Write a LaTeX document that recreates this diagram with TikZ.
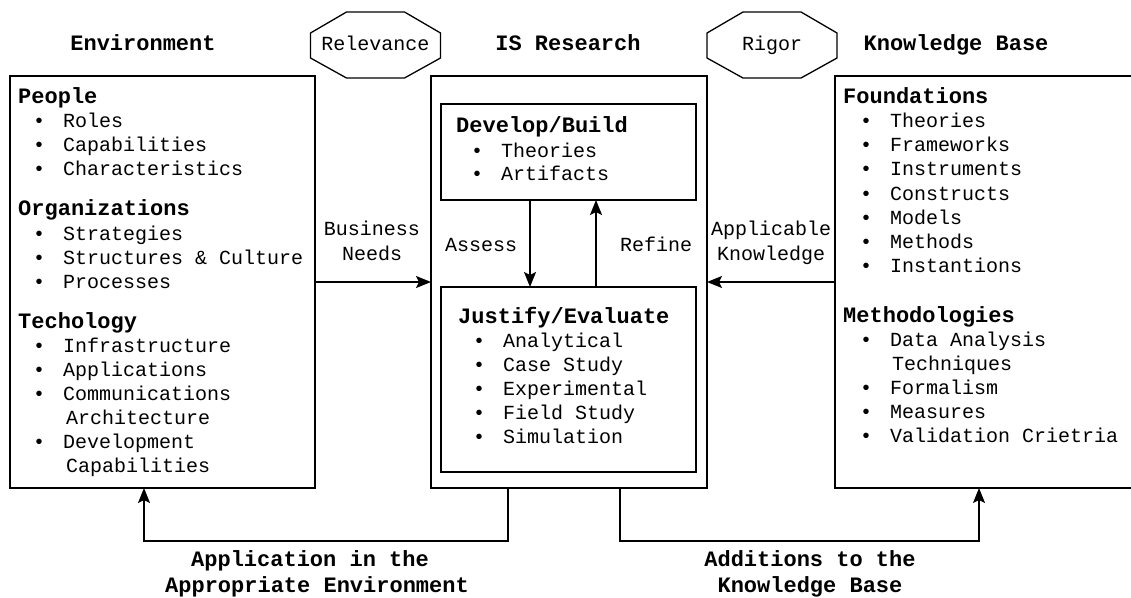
\documentclass[tikz,border=0pt]{standalone}
\usepackage{fontspec}
\setmainfont{Liberation Mono}
\usetikzlibrary{arrows.meta}
\newcommand\itemfont{\fontsize{20}{24}\selectfont}
\newcommand\headfont{\bfseries\fontsize{22}{26}\selectfont}
\newcommand\bulletcell{\makebox[30pt][l]{•}}

\begin{document}
\begin{tikzpicture}[x=1pt,y=-1pt,
  frame/.style={draw, line width=1.6pt, rectangle, inner sep=0pt, outer sep=0pt},
  subframe/.style={draw, line width=1.3pt, rectangle, inner sep=0pt, outer sep=0pt},
  item/.style={anchor=west, inner sep=0pt, font=\itemfont, text height=14pt, text depth=4pt},
  head/.style={anchor=west, inner sep=0pt, font=\headfont, text height=15pt, text depth=4pt},
  title/.style={anchor=center, inner sep=0pt, font=\headfont, text height=15pt, text depth=4pt},
  lbl/.style={anchor=center, inner sep=0pt, font=\itemfont, text height=14pt, text depth=4pt},
  octa/.style={line width=1.3pt},
  flow/.style={line width=1.6pt, -{Stealth[length=15pt,width=12pt,inset=3pt]}},
  link/.style={line width=1.6pt}
]
\useasboundingbox (0,0) rectangle (1131,597);

% column titles
\node[title] (tenv) at (143,45) {Environment};
\node[title] (tisr) at (568,45) {IS Research};
\node[title] (tkb)  at (956,45) {Knowledge Base};

% relevance and rigor octagons
\foreach \cx/\nm/\txt in {375.5/rel/Relevance, 772/rig/Rigor}{
  \draw[octa] (\cx-65,33) -- (\cx-29,12) -- (\cx+29,12) -- (\cx+65,33)
    -- (\cx+65,58) -- (\cx+29,78) -- (\cx-29,78) -- (\cx-65,58) -- cycle;
  \node[lbl] (\nm) at (\cx,45) {\txt};
}

% main frames
\node[frame, minimum width=305pt, minimum height=412pt] (env) at (162.5,282) {};
\node[frame, minimum width=276pt, minimum height=412pt] (isr) at (569,282) {};
\node[inner sep=0pt, outer sep=0pt, minimum width=300pt, minimum height=412pt] (kb) at (985,282) {};
\draw[line width=1.6pt] (kb.north east) -- (kb.north west) -- (kb.south west) -- (kb.south east);

% inner boxes of the research column
\node[subframe, minimum width=255pt, minimum height=96pt] (dev) at (568.5,152) {};
\node[subframe, minimum width=255pt, minimum height=185pt] (jus) at (568.5,379.5) {};

% environment contents
\node[head] (people) at (18,98) {People};
\node[item] (e1) at (33,122) {\bulletcell Roles};
\node[item] (e2) at (33,146) {\bulletcell Capabilities};
\node[item] (e3) at (33,170) {\bulletcell Characteristics};
\node[head] (orgs) at (18,210) {Organizations};
\node[item] (e4) at (33,235) {\bulletcell Strategies};
\node[item] (e5) at (33,259) {\bulletcell Structures \& Culture};
\node[item] (e6) at (33,283) {\bulletcell Processes};
\node[head] (tech) at (18,323) {Techology};
\node[item] (e7) at (33,347) {\bulletcell Infrastructure};
\node[item] (e8) at (33,371) {\bulletcell Applications};
\node[item] (e9) at (33,395) {\bulletcell Communications};
\node[item] (e9b) at (66,419) {Architecture};
\node[item] (e10) at (33,443) {\bulletcell Development};
\node[item] (e10b) at (66,467) {Capabilities};

% develop/build contents
\node[head] (devh) at (456,127) {Develop/Build};
\node[item] (d1) at (471,152) {\bulletcell Theories};
\node[item] (d2) at (471,175) {\bulletcell Artifacts};

% justify/evaluate contents
\node[head] (jush) at (458,318) {Justify/Evaluate};
\node[item] (j1) at (473,342) {\bulletcell Analytical};
\node[item] (j2) at (473,366) {\bulletcell Case Study};
\node[item] (j3) at (473,390) {\bulletcell Experimental};
\node[item] (j4) at (473,414) {\bulletcell Field Study};
\node[item] (j5) at (473,438) {\bulletcell Simulation};

% knowledge base contents
\node[head] (found) at (843,98) {Foundations};
\node[item] (k1) at (860,122) {\bulletcell Theories};
\node[item] (k2) at (860,146) {\bulletcell Frameworks};
\node[item] (k3) at (860,170) {\bulletcell Instruments};
\node[item] (k4) at (860,195) {\bulletcell Constructs};
\node[item] (k5) at (860,219) {\bulletcell Models};
\node[item] (k6) at (860,243) {\bulletcell Methods};
\node[item] (k7) at (860,267) {\bulletcell Instantions};
\node[head] (meth) at (843,317) {Methodologies};
\node[item] (m1) at (860,341) {\bulletcell Data Analysis};
\node[item] (m1b) at (892,365) {Techniques};
\node[item] (m2) at (860,389) {\bulletcell Formalism};
\node[item] (m3) at (860,413) {\bulletcell Measures};
\node[item] (m4) at (860,437) {\bulletcell Validation Crietria};

% flow labels
\node[lbl] (bn1) at (372,230) {Business};
\node[lbl] (bn2) at (372,255) {Needs};
\node[lbl] (ak1) at (771,230) {Applicable};
\node[lbl] (ak2) at (771,255) {Knowledge};
\node[lbl] (assess) at (481,246) {Assess};
\node[lbl] (refine) at (656,246) {Refine};
\node[title] (ap1) at (310,561) {Application in the};
\node[title] (ap2) at (317,587) {Appropriate Environment};
\node[title] (ad1) at (810,561) {Additions to the};
\node[title] (ad2) at (810,587) {Knowledge Base};

% connector columns
\coordinate (xassess) at (530,0);
\coordinate (xrefine) at (596,0);
\coordinate (xapp) at (508,0);
\coordinate (xadd) at (620,0);
\coordinate (xenv) at (144,0);
\coordinate (xkb) at (979,0);

% connectors
\draw[flow] (env.east) -- (isr.west);
\draw[flow] (kb.west) -- (isr.east);
\draw[flow] (dev.south -| xassess) -- (jus.north -| xassess);
\draw[flow] (jus.north -| xrefine) -- (dev.south -| xrefine);
\draw[flow] (isr.south -| xapp) -- ++(0,53) -| (env.south -| xenv);
\draw[flow] (isr.south -| xadd) -- ++(0,53) -| (kb.south -| xkb);
\end{tikzpicture}
\end{document}
